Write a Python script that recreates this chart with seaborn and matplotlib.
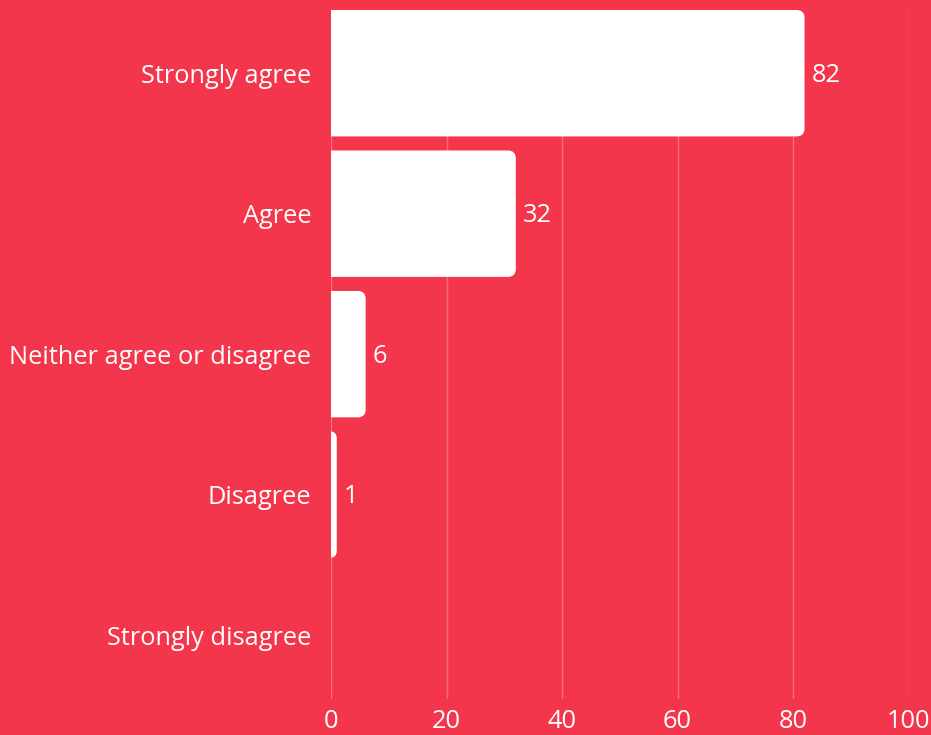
import matplotlib
matplotlib.use("Agg")
import matplotlib.pyplot as plt
import seaborn as sns
import pandas as pd
from matplotlib.patches import FancyBboxPatch

categories = ["Strongly agree", "Agree", "Neither agree or disagree", "Disagree", "Strongly disagree"]
values = [82, 32, 6, 1, 0]
xticks = [0, 20, 40, 60, 80, 100]

BG = "#F4364C"
GRID = "#F76F7E"
FS = 18.3

sns.set_theme(style="white")
plt.rcParams["font.family"] = ["Open Sans", "DejaVu Sans"]

fig = plt.figure(figsize=(9.31, 7.35), dpi=100, facecolor=BG)
ax = fig.add_axes([331 / 931, 36 / 735, 577.5 / 931, 689 / 735])
ax.set_facecolor(BG)

df = pd.DataFrame({"category": categories, "value": values})
sns.barplot(data=df, x="value", y="category", orient="h", color="white",
            width=0.9, ax=ax, zorder=3, saturation=1)

ax.set_xlim(0, 100)
ax.set_ylim(4.455, -0.45)
ax.set_xticks(xticks)
ax.set_xticklabels([str(t) for t in xticks])
ax.xaxis.grid(True, color=GRID, linewidth=1.0, zorder=0)
ax.yaxis.grid(False)
for s in ax.spines.values():
    s.set_visible(False)
ax.tick_params(axis="both", length=0, colors="white", labelsize=FS)
ax.tick_params(axis="y", pad=14)
ax.tick_params(axis="x", pad=7)
ax.set_xlabel("")
ax.set_ylabel("")

# rounded right corners
xpp = 100 / 577.5
ypp = 4.905 / 689
aspect = ypp / xpp
r = 8 * xpp
for p in list(ax.patches):
    x, y, w, h = p.get_x(), p.get_y(), p.get_width(), p.get_height()
    if w <= 0:
        p.remove()
        continue
    ext = r
    rr = min(r, (w + ext) / 2)
    fb = FancyBboxPatch((x - ext, y), w + ext, h,
                        boxstyle=f"round,pad=0,rounding_size={rr}",
                        mutation_aspect=aspect, facecolor="white",
                        edgecolor="none", zorder=3, clip_on=True)
    ax.add_patch(fb)
    p.set_visible(False)

for i, v in enumerate(values):
    if v > 0:
        ax.annotate(str(v), xy=(v, i), xytext=(5, -1.5), textcoords="offset points",
                    va="center", ha="left", color="white", fontsize=FS)

fig.savefig("out.png", dpi=100, facecolor=BG)
